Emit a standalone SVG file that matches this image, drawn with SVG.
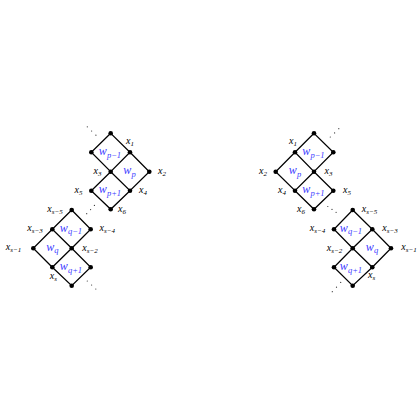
<svg xmlns="http://www.w3.org/2000/svg" width="420" height="420" viewBox="0 0 420 420">
<style>
.e{stroke:#000;stroke-width:1.25;fill:none;stroke-linecap:round}
.n{fill:#000}
.d{fill:#333}
.x{font-family:"Liberation Serif",serif;font-style:italic;font-size:10px;fill:#000;text-anchor:middle}
.w{font-family:"Liberation Serif",serif;font-style:italic;font-size:12px;fill:#3c3cff;text-anchor:middle}
.s{font-size:7px}
.ws{font-size:8.5px}
</style>
<rect width="420" height="420" fill="#fff"/>
<g id="connectors">
<path class="e" d="M110.7,133.3L91.3,152.3L110.7,171.7L130,152.3Z M130,152.3L149.3,171.7L130,190.7L110.7,171.7 M110.7,171.7L91.3,190.7L110.7,209.3L130,190.7"/>
<path class="e" d="M71.7,210L52.3,229.3L71.7,248.3L90.7,229.3Z M52.3,229.3L33.3,248.3L52.3,267.3L71.7,248.3 M71.7,248.3L90.7,267.3L71.7,285.7L52.3,267.3"/>
<path class="e" d="M314,133.3L295,152.3L314,171.7L333.3,152.3Z M295,152.3L275.7,171.7L295,190.7L314,171.7 M314,171.7L333.3,190.7L314,209.3L295,190.7"/>
<path class="e" d="M352.7,210L334,229.3L352.7,248.3L372.3,229.3Z M372.3,229.3L391,248.3L372.3,267.3L352.7,248.3 M352.7,248.3L334,267.3L352.7,285.7L372.3,267.3"/>
</g>
<g id="dots">
<circle class="d" cx="87.3" cy="126.8" r="0.6"/><circle class="d" cx="91.6" cy="131" r="0.6"/><circle class="d" cx="95.9" cy="135.2" r="0.6"/>
<circle class="d" cx="86.7" cy="213.7" r="0.6"/><circle class="d" cx="90.6" cy="209.6" r="0.6"/><circle class="d" cx="94.4" cy="205.4" r="0.6"/>
<circle class="d" cx="87.3" cy="281" r="0.6"/><circle class="d" cx="91.6" cy="285" r="0.6"/><circle class="d" cx="95.8" cy="289" r="0.6"/>
<circle class="d" cx="330.3" cy="137" r="0.6"/><circle class="d" cx="334.6" cy="132.9" r="0.6"/><circle class="d" cx="338.8" cy="128.7" r="0.6"/>
<circle class="d" cx="327.8" cy="206.5" r="0.6"/><circle class="d" cx="332" cy="209.4" r="0.6"/><circle class="d" cx="336.1" cy="212.3" r="0.6"/>
<circle class="d" cx="332.3" cy="291.7" r="0.6"/><circle class="d" cx="336.5" cy="287.2" r="0.6"/><circle class="d" cx="340.7" cy="282.4" r="0.6"/>
</g>
<g id="ul-top"><circle class="n" cx="110.7" cy="133.3" r="2.3"/></g>
<g id="ul-a"><circle class="n" cx="91.3" cy="152.3" r="2.3"/></g>
<g id="ul-x1"><circle class="n" cx="130" cy="152.3" r="2.3"/><text class="x" x="130" y="144">x<tspan class="s" dy="2">1</tspan></text></g>
<g id="ul-x3"><circle class="n" cx="110.7" cy="171.7" r="2.3"/><text class="x" x="97.5" y="174">x<tspan class="s" dy="2">3</tspan></text></g>
<g id="ul-x2"><circle class="n" cx="149.3" cy="171.7" r="2.3"/><text class="x" x="162" y="174">x<tspan class="s" dy="2">2</tspan></text></g>
<g id="ul-x5"><circle class="n" cx="91.3" cy="190.7" r="2.3"/><text class="x" x="78.5" y="193">x<tspan class="s" dy="2">5</tspan></text></g>
<g id="ul-x4"><circle class="n" cx="130" cy="190.7" r="2.3"/><text class="x" x="143" y="193">x<tspan class="s" dy="2">4</tspan></text></g>
<g id="ul-x6"><circle class="n" cx="110.7" cy="209.3" r="2.3"/><text class="x" x="122" y="211.6">x<tspan class="s" dy="2">6</tspan></text></g>
<g id="ul-wp-1"><text class="w" x="110" y="155">w<tspan class="ws" dy="2.5">p−1</tspan></text></g>
<g id="ul-wp"><text class="w" x="129.5" y="174">w<tspan class="ws" dy="2.5">p</tspan></text></g>
<g id="ul-wp+1"><text class="w" x="110" y="193">w<tspan class="ws" dy="2.5">p+1</tspan></text></g>
<g id="ll-xs-5"><circle class="n" cx="71.7" cy="210" r="2.3"/><text class="x" x="55" y="211.5">x<tspan class="s" dy="2">s−5</tspan></text></g>
<g id="ll-xs-3"><circle class="n" cx="52.3" cy="229.3" r="2.3"/><text class="x" x="35" y="230.8">x<tspan class="s" dy="2">s−3</tspan></text></g>
<g id="ll-xs-4"><circle class="n" cx="90.7" cy="229.3" r="2.3"/><text class="x" x="107.3" y="230.8">x<tspan class="s" dy="2">s−4</tspan></text></g>
<g id="ll-xs-2"><circle class="n" cx="71.7" cy="248.3" r="2.3"/><text class="x" x="90" y="250.6">x<tspan class="s" dy="2">s−2</tspan></text></g>
<g id="ll-xs-1"><circle class="n" cx="33.3" cy="248.3" r="2.3"/><text class="x" x="13.5" y="250.2">x<tspan class="s" dy="2">s−1</tspan></text></g>
<g id="ll-xs"><circle class="n" cx="52.3" cy="267.3" r="2.3"/><text class="x" x="53.3" y="278.7">x<tspan class="s" dy="2">s</tspan></text></g>
<g id="ll-lr"><circle class="n" cx="90.7" cy="267.3" r="2.3"/></g>
<g id="ll-bot"><circle class="n" cx="71.7" cy="285.7" r="2.3"/></g>
<g id="ll-wq-1"><text class="w" x="71" y="231.5">w<tspan class="ws" dy="2.5">q−1</tspan></text></g>
<g id="ll-wq"><text class="w" x="52.3" y="250.5">w<tspan class="ws" dy="2.5">q</tspan></text></g>
<g id="ll-wq+1"><text class="w" x="71" y="270">w<tspan class="ws" dy="2.5">q+1</tspan></text></g>
<g id="ur-top"><circle class="n" cx="314" cy="133.3" r="2.3"/></g>
<g id="ur-x1"><circle class="n" cx="295" cy="152.3" r="2.3"/><text class="x" x="293" y="144">x<tspan class="s" dy="2">1</tspan></text></g>
<g id="ur-b"><circle class="n" cx="333.3" cy="152.3" r="2.3"/></g>
<g id="ur-x2"><circle class="n" cx="275.7" cy="171.7" r="2.3"/><text class="x" x="263" y="174">x<tspan class="s" dy="2">2</tspan></text></g>
<g id="ur-x3"><circle class="n" cx="314" cy="171.7" r="2.3"/><text class="x" x="328.5" y="174">x<tspan class="s" dy="2">3</tspan></text></g>
<g id="ur-x4"><circle class="n" cx="295" cy="190.7" r="2.3"/><text class="x" x="282" y="193">x<tspan class="s" dy="2">4</tspan></text></g>
<g id="ur-x5"><circle class="n" cx="333.3" cy="190.7" r="2.3"/><text class="x" x="347" y="193">x<tspan class="s" dy="2">5</tspan></text></g>
<g id="ur-x6"><circle class="n" cx="314" cy="209.3" r="2.3"/><text class="x" x="301" y="211.6">x<tspan class="s" dy="2">6</tspan></text></g>
<g id="ur-wp-1"><text class="w" x="313.5" y="155">w<tspan class="ws" dy="2.5">p−1</tspan></text></g>
<g id="ur-wp"><text class="w" x="295" y="174">w<tspan class="ws" dy="2.5">p</tspan></text></g>
<g id="ur-wp+1"><text class="w" x="313.5" y="193">w<tspan class="ws" dy="2.5">p+1</tspan></text></g>
<g id="lr-xs-5"><circle class="n" cx="352.7" cy="210" r="2.3"/><text class="x" x="369.5" y="211.5">x<tspan class="s" dy="2">s−5</tspan></text></g>
<g id="lr-xs-4"><circle class="n" cx="334" cy="229.3" r="2.3"/><text class="x" x="317.5" y="230.8">x<tspan class="s" dy="2">s−4</tspan></text></g>
<g id="lr-xs-3"><circle class="n" cx="372.3" cy="229.3" r="2.3"/><text class="x" x="390" y="230.8">x<tspan class="s" dy="2">s−3</tspan></text></g>
<g id="lr-xs-2"><circle class="n" cx="352.7" cy="248.3" r="2.3"/><text class="x" x="334.5" y="250.6">x<tspan class="s" dy="2">s−2</tspan></text></g>
<g id="lr-xs-1"><circle class="n" cx="391" cy="248.3" r="2.3"/><text class="x" x="409" y="250.2">x<tspan class="s" dy="2">s−1</tspan></text></g>
<g id="lr-ll"><circle class="n" cx="334" cy="267.3" r="2.3"/></g>
<g id="lr-xs"><circle class="n" cx="372.3" cy="267.3" r="2.3"/><text class="x" x="371.7" y="278.2">x<tspan class="s" dy="2">s</tspan></text></g>
<g id="lr-bot"><circle class="n" cx="352.7" cy="285.7" r="2.3"/></g>
<g id="lr-wq-1"><text class="w" x="351" y="231.5">w<tspan class="ws" dy="2.5">q−1</tspan></text></g>
<g id="lr-wq"><text class="w" x="372" y="250.5">w<tspan class="ws" dy="2.5">q</tspan></text></g>
<g id="lr-wq+1"><text class="w" x="351" y="270">w<tspan class="ws" dy="2.5">q+1</tspan></text></g>
</svg>
